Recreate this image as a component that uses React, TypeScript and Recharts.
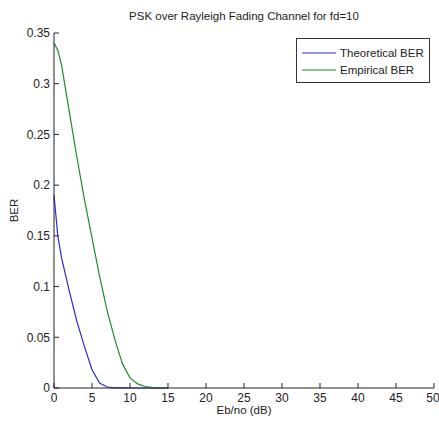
import React from 'react';
import { LineChart, Line, XAxis, YAxis, Legend } from 'recharts';

const ebno = [0, 0.5, 1, 2, 3, 4, 5, 6, 7, 8, 9, 10, 11, 12, 13, 14, 15];
const theoreticalBer = [0.19, 0.15, 0.128, 0.096, 0.066, 0.041, 0.018, 0.005, 0.001, 0.0002, 0.0001, 0, 0, 0, 0, 0, 0];
const empiricalBer = [0.34, 0.333, 0.318, 0.273, 0.228, 0.186, 0.148, 0.11, 0.076, 0.048, 0.024, 0.01, 0.004, 0.0015, 0.0004, 0.0001, 0];
const xTicks = [0, 5, 10, 15, 20, 25, 30, 35, 40, 45, 50];
const yTicks = [0, 0.05, 0.1, 0.15, 0.2, 0.25, 0.3, 0.35];
const seriesNames = ['Theoretical BER', 'Empirical BER'];
const seriesColors = ['#2b2bd0', '#1f8a2f'];
const title = 'PSK over Rayleigh Fading Channel for fd=10';
const xLabel = 'Eb/no (dB)';
const yLabel = 'BER';

const data = ebno.map((x, i) => ({ x, theo: theoreticalBer[i], emp: empiricalBer[i] }));

const FONT = '"Liberation Sans", Arial, sans-serif';
const TEXT = '#222';

const LegendBox = () => (
  <div
    style={{
      width: 134,
      height: 45,
      border: '1px solid #333',
      background: '#fff',
      boxSizing: 'border-box',
      fontFamily: FONT,
      fontSize: 11.5,
      color: TEXT,
      paddingTop: 5,
      whiteSpace: 'nowrap',
    }}
  >
    {seriesNames.map((n, i) => (
      <div key={n} style={{ display: 'flex', alignItems: 'center', height: 17 }}>
        <svg width={38} height={10} style={{ marginLeft: 5, flex: 'none' }}>
          <line x1={0} y1={5} x2={34} y2={5} stroke={seriesColors[i]} strokeWidth={1.2} />
        </svg>
        <span>{n}</span>
      </div>
    ))}
  </div>
);

export default function App() {
  return (
    <div style={{ position: 'absolute', left: 0, top: 0, width: 439, height: 426, background: '#fff' }}>
      <div
        style={{
          position: 'absolute',
          left: 54,
          width: 380,
          top: 10,
          textAlign: 'center',
          fontFamily: FONT,
          fontSize: 11.5,
          color: TEXT,
          whiteSpace: 'nowrap',
        }}
      >
        {title}
      </div>
      <LineChart width={439} height={426} data={data} margin={{ top: 33, right: 5, bottom: 0, left: 0 }}>
        <XAxis
          xAxisId="b"
          dataKey="x"
          type="number"
          domain={[0, 50]}
          ticks={xTicks}
          height={38}
          tickSize={-5}
          tickMargin={10}
          stroke="#222"
          tick={{ fill: TEXT, fontSize: 12, fontFamily: FONT }}
          label={{ value: xLabel, position: 'insideBottom', offset: 12, fill: TEXT, fontSize: 11.5, fontFamily: FONT }}
        />
        <XAxis
          xAxisId="t"
          orientation="top"
          dataKey="x"
          type="number"
          domain={[0, 50]}
          ticks={xTicks}
          height={0}
          tickSize={-5}
          stroke="#222"
          tickFormatter={() => ''}
        />
        <YAxis
          yAxisId="l"
          type="number"
          domain={[0, 0.35]}
          ticks={yTicks}
          width={54}
          tickSize={-5}
          tickMargin={9}
          stroke="#222"
          tick={{ fill: TEXT, fontSize: 12, fontFamily: FONT }}
          label={{
            content: (p: any) => {
              const vb = p.viewBox;
              const cx = 15;
              const cy = vb.y + vb.height / 2;
              return (
                <text
                  x={cx}
                  y={cy}
                  transform={`rotate(-90 ${cx} ${cy})`}
                  textAnchor="middle"
                  dominantBaseline="middle"
                  fill={TEXT}
                  fontSize={11.5}
                  fontFamily={FONT}
                >
                  {yLabel}
                </text>
              );
            },
          }}
        />
        <YAxis
          yAxisId="r"
          orientation="right"
          type="number"
          domain={[0, 0.35]}
          ticks={yTicks}
          width={0}
          tickSize={-5}
          stroke="#222"
          tickFormatter={() => ''}
        />
        <Legend
          layout="vertical"
          align="center"
          verticalAlign="middle"
          content={() => <LegendBox />}
          wrapperStyle={{ position: 'absolute', left: 296, top: 38, width: 134 }}
        />
        <Line
          xAxisId="b"
          yAxisId="l"
          dataKey="theo"
          name={seriesNames[0]}
          stroke={seriesColors[0]}
          strokeWidth={1.2}
          dot={false}
          type="linear"
          isAnimationActive={false}
        />
        <Line
          xAxisId="b"
          yAxisId="l"
          dataKey="emp"
          name={seriesNames[1]}
          stroke={seriesColors[1]}
          strokeWidth={1.2}
          dot={false}
          type="linear"
          isAnimationActive={false}
        />
      </LineChart>
    </div>
  );
}
